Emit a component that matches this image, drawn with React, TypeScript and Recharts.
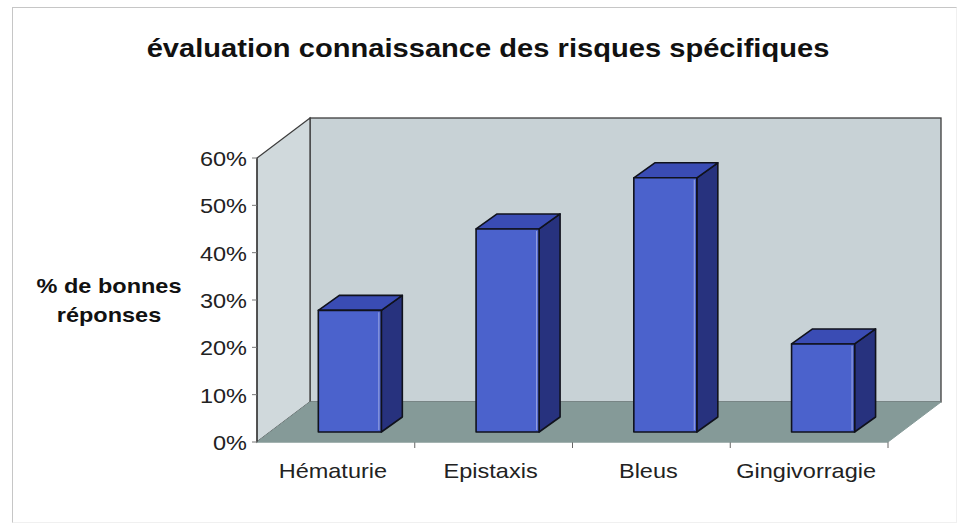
import React from 'react';
import { BarChart, Bar, XAxis, YAxis, ReferenceArea } from 'recharts';

const categories = ['Hématurie', 'Epistaxis', 'Bleus', 'Gingivorragie'];
const goodAnswers = [25.7, 42.9, 53.7, 18.6];
const yTicks = [0, 10, 20, 30, 40, 50, 60];

const chartTitle = 'évaluation connaissance des risques spécifiques';
const yLabelLines = ['% de bonnes', 'réponses'];

const chartData = categories.map((name, i) => ({ name, value: goodAnswers[i] }));

const FONT = '"Liberation Sans", Arial, Helvetica, sans-serif';
const STRETCH = 1.12;

// depth of the 3D box (walls) and of the bars
const WALL_DX = 53;
const WALL_DY = 40;
const BAR_OFF_X = 14;
const BAR_OFF_Y = 10;
const BAR_DX = 21;
const BAR_DY = 15;

const pts = (arr: number[][]) => arr.map((p) => p.join(',')).join(' ');

const Walls = (props: any) => {
  const { x, y, width, height } = props;
  const bottom = y + height;
  const right = x + width;
  const band = width / categories.length;
  return (
    <g>
      <rect x={x + WALL_DX} y={y - WALL_DY} width={width} height={height} fill="#c8d2d6" stroke="#3d3d3d" strokeWidth={1.3} />
      <polygon
        points={pts([[x, bottom], [x, y], [x + WALL_DX, y - WALL_DY], [x + WALL_DX, bottom - WALL_DY]])}
        fill="#d0d9dc"
        stroke="#3d3d3d"
        strokeWidth={1.3}
      />
      <polygon
        points={pts([[x, bottom], [right, bottom], [right + WALL_DX, bottom - WALL_DY], [x + WALL_DX, bottom - WALL_DY]])}
        fill="#859a98"
        stroke="#859a98"
        strokeWidth={1}
      />
      {categories.map((_, i) => (
        <line key={i} x1={x + band * (i + 1)} x2={x + band * (i + 1)} y1={bottom} y2={bottom + 6} stroke="#666" strokeWidth={1} />
      ))}
    </g>
  );
};

const Box3D = (props: any) => {
  const { x, y, width, height } = props;
  if (!height) return null;
  const fx = x + BAR_OFF_X;
  const fy = y - BAR_OFF_Y;
  const fr = fx + width;
  const fb = fy + height;
  return (
    <g stroke="#10121c" strokeWidth={1.6} strokeLinejoin="round">
      <polygon points={pts([[fr, fy], [fr + BAR_DX, fy - BAR_DY], [fr + BAR_DX, fb - BAR_DY], [fr, fb]])} fill="#27327e" />
      <polygon points={pts([[fx, fy], [fx + BAR_DX, fy - BAR_DY], [fr + BAR_DX, fy - BAR_DY], [fr, fy]])} fill="#3a4cb4" />
      <rect x={fx} y={fy} width={width} height={height} fill="#4b62cc" />
      <line x1={fr - 2.5} x2={fr - 2.5} y1={fy + 2} y2={fb - 2} stroke="#8f9ce0" strokeWidth={1.2} />
    </g>
  );
};

const YTick = (props: any) => {
  const { x, y, payload } = props;
  return (
    <text
      transform={`translate(${x},${y + 1}) scale(${STRETCH},1)`}
      textAnchor="end"
      dominantBaseline="central"
      fontSize={21}
      fontFamily={FONT}
      fill="#222"
    >
      {`${payload.value}%`}
    </text>
  );
};

const XTick = (props: any) => {
  const { x, y, payload } = props;
  return (
    <text
      transform={`translate(${x - 3},${y + 28}) scale(${STRETCH},1)`}
      textAnchor="middle"
      fontSize={21}
      fontFamily={FONT}
      fill="#222"
    >
      {payload.value}
    </text>
  );
};

export default function App() {
  return (
    <div style={{ position: 'absolute', left: 0, top: 0, width: 959, height: 525, background: '#fff', overflow: 'hidden' }}>
      <div
        style={{
          position: 'absolute',
          left: 12,
          top: 7,
          width: 945,
          height: 516,
          boxSizing: 'border-box',
          borderLeft: '1.5px solid #c6c6c6',
          borderTop: '1.5px solid #c6c6c6',
          borderRight: '1px solid #f0f0f0',
          borderBottom: '1px solid #f0f0f0',
        }}
      />
      <div style={{ position: 'absolute', left: 0, top: 0 }}>
        <BarChart
          width={959}
          height={525}
          data={chartData}
          margin={{ top: 158, right: 71, bottom: 43, left: 197 }}
          barCategoryGap="30%"
        >
          <ReferenceArea y1={0} y2={60} ifOverflow="visible" shape={(p: any) => <Walls {...p} />} />
          <XAxis
            dataKey="name"
            height={40}
            axisLine={{ stroke: '#859a98', strokeWidth: 1 }}
            tickLine={false}
            tick={<XTick />}
            interval={0}
          />
          <YAxis
            width={60}
            domain={[0, 60]}
            ticks={yTicks}
            tickSize={5}
            tickMargin={5}
            axisLine={{ stroke: '#3d3d3d', strokeWidth: 1.3 }}
            tickLine={{ stroke: '#777' }}
            tick={<YTick />}
          />
          <Bar dataKey="value" isAnimationActive={false} shape={(p: any) => <Box3D {...p} />} />
        </BarChart>
      </div>
      <svg width={959} height={525} style={{ position: 'absolute', left: 0, top: 0, pointerEvents: 'none' }}>
        <text
          transform={`translate(488,57) scale(${STRETCH},1)`}
          textAnchor="middle"
          fontSize={26}
          fontWeight="bold"
          fontFamily={FONT}
          fill="#111"
        >
          {chartTitle}
        </text>
        {yLabelLines.map((line, i) => (
          <text
            key={line}
            transform={`translate(109,${293 + i * 29}) scale(${STRETCH},1)`}
            textAnchor="middle"
            fontSize={21}
            fontWeight="bold"
            fontFamily={FONT}
            fill="#111"
          >
            {line}
          </text>
        ))}
      </svg>
    </div>
  );
}
